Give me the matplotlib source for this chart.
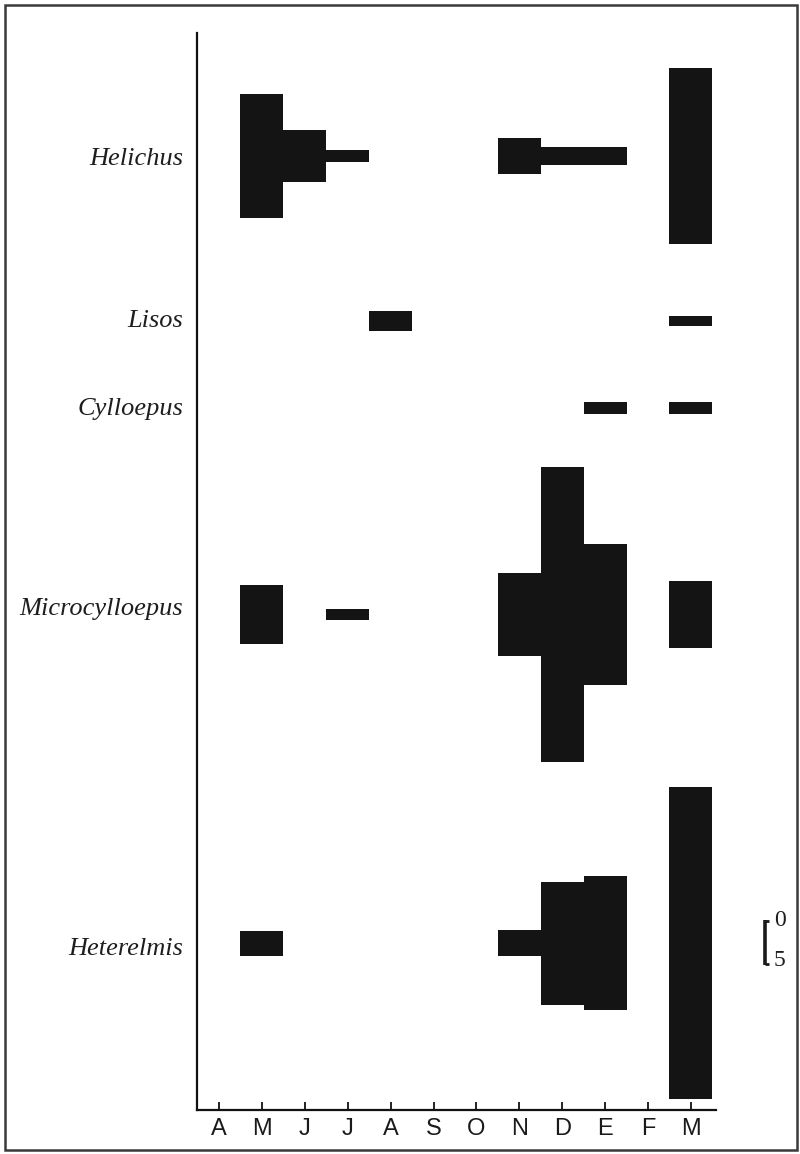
import matplotlib
matplotlib.use("Agg")
import matplotlib.pyplot as plt
from matplotlib.patches import Rectangle
from matplotlib.transforms import blended_transform_factory

# Sampling months (April to March)
months = ['A', 'M', 'J', 'J', 'A', 'S', 'O', 'N', 'D', 'E', 'F', 'M']

# Taxa, top to bottom
taxa = ['Helichus', 'Lisos', 'Cylloepus', 'Microcylloepus', 'Heterelmis']

# Monthly abundance per taxon (kite width, same units as the 0-5 scale bar)
helichus       = [0, 14.5, 6.0, 1.3, 0,   0, 0, 4.2,  2.2,  2.2, 0, 20.5]
lisos          = [0, 0,    0,   0,   2.3, 0, 0, 0,    0,    0,   0, 1.2]
cylloepus      = [0, 0,    0,   0,   0,   0, 0, 0,    0,    1.3, 0, 1.3]
microcylloepus = [0, 6.9,  0,   1.3, 0,   0, 0, 9.7,  34.4, 16.4, 0, 7.8]
heterelmis     = [0, 2.9,  0,   0,   0,   0, 0, 3.1,  14.3, 15.5, 0, 36.2]

series = [helichus, lisos, cylloepus, microcylloepus, heterelmis]

# Baseline of each kite on the vertical axis, and where its name sits
row_centres = [110.9, 91.7, 81.6, 57.6, 19.4]
label_centres = [110.55, 91.7, 81.5, 58.2, 18.7]

fig = plt.figure(figsize=(8.0, 11.54), dpi=100)
ax = fig.add_axes([0.24625, 0.0381, 0.64875, 0.9333])

bar_colour = '#141414'


def kite_runs(values):
    """Split a monthly series into runs of consecutive non-zero months."""
    runs, current = [], []
    for i, v in enumerate(values):
        if v > 0:
            current.append(i)
        elif current:
            runs.append(current)
            current = []
    if current:
        runs.append(current)
    return runs


# Each run of occupied months is one stepped kite, so neighbouring
# months join without seams
for values, centre in zip(series, row_centres):
    for run in kite_runs(values):
        xs, lo, hi = [], [], []
        for i in run:
            half = values[i] / 2.0
            xs += [i - 0.5, i + 0.5]
            lo += [centre - half, centre - half]
            hi += [centre + half, centre + half]
        ax.fill_between(xs, lo, hi, color=bar_colour, linewidth=0)

ax.set_xlim(-0.513, 11.585)
ax.set_ylim(0, 125.2)

for side in ('top', 'right'):
    ax.spines[side].set_visible(False)
for side in ('left', 'bottom'):
    ax.spines[side].set_linewidth(1.6)
    ax.spines[side].set_color('#111111')

ax.set_yticks([])
ax.set_xticks(range(len(months)))
ax.set_xticklabels(months, fontfamily='Liberation Sans', fontsize=17,
                   color='#1a1a1a')
ax.tick_params(axis='x', direction='in', length=6, width=1.3, pad=6,
               color='#111111')

# Taxon names to the left of the axis
label_tf = blended_transform_factory(fig.transFigure, ax.transData)
for name, centre in zip(taxa, label_centres):
    ax.text(183 / 800, centre, name, transform=label_tf, ha='right',
            va='center', fontfamily='Liberation Serif', fontstyle='italic',
            fontsize=19, color='#1e1e1e')

# Scale bar: 0 to 5 units
scale_top, scale_bottom = 22.0, 17.0
bx = 12.72
ink = '#1a1a1a'
ax.plot([bx, bx], [scale_bottom - 0.12, scale_top + 0.12], color=ink,
        lw=2.6, clip_on=False, solid_capstyle='butt')
ax.plot([bx, bx + 0.11], [scale_top, scale_top], color=ink, lw=2.0,
        clip_on=False, solid_capstyle='butt')
ax.plot([bx, bx + 0.11], [scale_bottom, scale_bottom], color=ink, lw=2.0,
        clip_on=False, solid_capstyle='butt')
ax.text(bx + 0.22, scale_top + 0.05, '0', ha='left', va='center',
        fontfamily='Liberation Serif', fontsize=17, color='#1e1e1e',
        clip_on=False)
ax.text(bx + 0.20, scale_bottom + 0.35, '5', ha='left', va='center',
        fontfamily='Liberation Serif', fontsize=17, color='#1e1e1e',
        clip_on=False)

# Frame around the whole figure
fig.patches.append(Rectangle((5 / 800, 4 / 1154), 792 / 800, 1145 / 1154,
                             transform=fig.transFigure, fill=False,
                             linewidth=1.8, edgecolor='#3a3a3a'))

fig.savefig('out.png', dpi=100, facecolor='white')
